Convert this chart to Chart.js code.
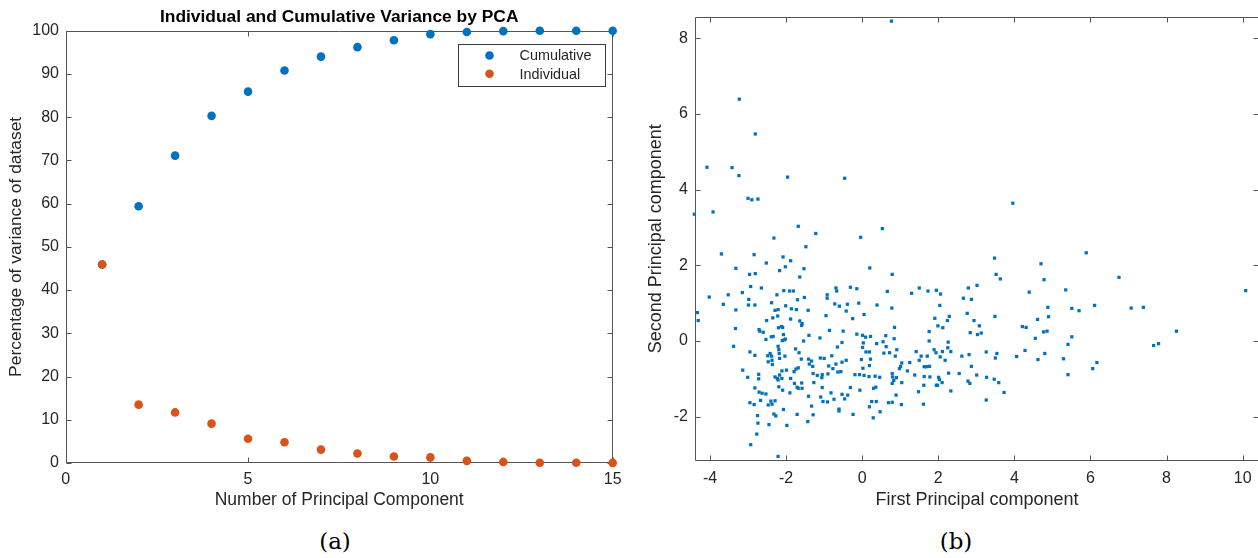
<!DOCTYPE html>
<html>
<head>
<meta charset="utf-8">
<script src="https://cdn.jsdelivr.net/npm/chart.js@4.4.1/dist/chart.umd.min.js"></script>
<style>
  html, body { margin: 0; padding: 0; background: #fff; overflow: hidden; }
  body { width: 1258px; height: 558px; position: relative; }
  canvas { position: absolute; top: 0; }
  #varChart { left: 0; }
  #pcChart { left: 640px; }
  .caption { position: absolute; top: 530px; width: 100px; text-align: center;
             font: 23px 'DejaVu Serif', serif; line-height: 23px; color: #000; }
</style>
</head>
<body>
<canvas id="varChart" width="640" height="520"></canvas>
<canvas id="pcChart" width="625" height="520"></canvas>
<div class="caption" style="left:285px">(a)</div>
<div class="caption" style="left:906px">(b)</div>

<script>
// explained variance per principal component (%)
const components = [1, 2, 3, 4, 5, 6, 7, 8, 9, 10, 11, 12, 13, 14, 15];
const cumulative = [45.9, 59.4, 71.1, 80.3, 85.9, 90.8, 94.0, 96.2, 97.8, 99.2, 99.7, 99.9, 100.0, 100.0, 100.0];
const individual = [45.9, 13.5, 11.7, 9.1, 5.6, 4.8, 3.1, 2.2, 1.5, 1.3, 0.5, 0.25, 0.05, 0.05, 0.03];
const pcaTicksX = [0, 5, 10, 15];
const pcaTicksY = [0, 10, 20, 30, 40, 50, 60, 70, 80, 90, 100];

// scores on the first two principal components (pc1[i], pc2[i] is one sample)
const pc1 = [
  0.77, -3.23, -2.81, -4.08, -3.42, -3.24, -1.96, -0.46, -3.00, -2.90,
  -2.74, -4.41, -3.92, -1.68, 0.53, -1.22, -2.32, -0.04, -1.48, 3.96,
  6.75, 7.07, 7.39, 8.26, 7.66, 7.79, 10.08,
  3.48, 4.70, 5.89, 3.52, 3.63, 4.78, 2.79, 3.02, 4.39, 5.35,
  2.66, 2.87, 4.88, 5.51, 5.70, 6.11, 2.76, 3.49, 4.61, 4.90,
  2.94, 3.08, 2.84, 3.03, 3.13, 4.21, 4.31, 4.77, 4.86, 4.55,
  5.51, 5.41, 4.28, 2.62, 2.81, 3.26, 3.54, 3.50, 4.06, 4.62,
  4.80, 5.29, 6.17, 6.06, 2.87, 2.55, 3.01, 3.27, 2.78, 2.83,
  3.47, 3.59, 5.41, 3.73, 3.26,
  -3.70, -2.84, -2.08, -1.88, -2.52, -3.32, -2.02, -1.53, -2.96, -2.81,
  -2.17, -1.64, -2.65, -2.93, -3.15, -3.52, -4.02, -3.65, -2.98, -2.99,
  -2.82, -3.32, -4.33, -4.31, -2.06, -1.91, -1.81, -2.24, -2.38, -2.01,
  -1.86, -1.73, -1.70, -1.52, -1.42, -2.29, -2.21, -2.51, -2.35, -2.22,
  -1.88, -1.64, -1.58, -1.59, -1.40, -1.54, -3.33, -2.71, -2.69, -2.60,
  -2.34, -2.12, -2.09, -2.20, -2.07, -2.02, -2.05, -2.10, -2.53, -2.39,
  -3.38, -2.95, -2.82, -2.21, -2.19, -2.42, -2.38, -2.48, -2.37, -2.47,
  -2.36, -2.17, -2.18, -2.03, -1.75, -1.66, -1.60, -1.41, -3.14, -3.01,
  -2.72, -2.72, -2.82, -2.71, -2.63, -2.53, -2.95, -2.84, -2.67, -2.75,
  -2.74, -2.77, -2.93, -2.21, -2.45, -2.32, -2.27, -2.47, -2.40, -2.29,
  -2.37, -1.98, -2.07, -2.19, -2.09, -2.29, -2.23, -2.21, -2.11, -2.17,
  -2.11, -1.99, -1.88, -1.78, -1.71, -1.68, -1.58, -1.74, -1.68, -1.79,
  -1.90, -1.71, -1.43, -1.41, -1.33, -1.29, -1.59, -1.39, -1.33, -1.30, -1.27, -1.29,
  0.20, 0.79, -0.69, -0.67, -0.92, -0.92, -0.31, -0.14, 0.66, -0.72,
  -0.60, -0.39, -0.42, -0.09, 0.39, 0.78, 0.05, -0.95, -0.25, 0.85,
  -0.86, -0.50, -1.11, -0.14, 0.01, 0.09, 0.22, 0.62, 0.84, -0.53,
  0.03, 0.01, 0.38, 0.55, 0.63, -0.65, 0.10, 0.19, 0.22, -0.02,
  0.91, 0.57, 0.72, 0.87, -0.80, -1.10, -1.00, -0.42, -0.53, -0.69,
  -0.88, -0.77, -0.64, -0.56, -1.18, -1.05, -1.06, -0.90, -1.05, -0.82,
  -1.09, -1.03, -0.91, -0.74, -0.53, -0.46, -0.38, -0.61, -0.61, -0.31,
  -0.19, -0.07, -0.06, -0.24, 0.02, 0.05, 0.19, 0.18, 0.34, 0.46,
  0.30, 0.36, 0.25, 0.37, 0.19, 0.29, 0.47, 0.79, 0.80, 0.83,
  0.79, 0.90, 0.98, 1.01, 1.04, 1.04, 0.89, 0.69, 0.79, 1.03,
  1.25, 1.19, 1.38, 1.42, 1.50, 1.55, 1.63, 1.69, 1.77, 1.71,
  1.63, 1.62, 1.48, 1.61, 1.78, 1.89, 1.94, 2.01, 2.03, 1.95,
  1.98, 2.10, 2.27, 2.33, 2.05, 2.18, 2.25, 2.26, 2.33, 2.11,
  1.76, 1.76, 1.99, 2.12, 2.24, 2.29, 1.91, 2.04, 1.30, 1.50,
  1.73, 1.95, 2.06
];
const pc2 = [
  8.45, 6.39, 5.47, 4.59, 4.58, 4.37, 4.33, 4.30, 3.77, 3.73,
  3.75, 3.35, 3.41, 3.03, 2.97, 2.84, 2.72, 2.74, 2.49, 3.64,
  1.68, 0.87, 0.89, 0.26, -0.12, -0.07, 1.33,
  2.19, 2.04, 2.33, 1.76, 1.64, 1.62, 1.40, 1.47, 1.29, 1.35,
  1.13, 1.10, 0.89, 0.86, 0.80, 0.94, 0.73, 0.65, 0.57, 0.64,
  0.54, 0.40, 0.22, 0.17, 0.21, 0.38, 0.36, 0.24, 0.26, 0.07,
  0.11, -0.09, -0.25, -0.40, -0.36, -0.29, -0.33, -0.45, -0.41, -0.49,
  -0.33, -0.47, -0.57, -0.73, -0.67, -0.86, -0.90, -0.96, -1.06, -1.12,
  -1.01, -1.10, -0.89, -1.36, -1.56,
  2.30, 2.28, 2.22, 2.12, 2.06, 1.92, 1.96, 1.91, 1.76, 1.78,
  1.86, 1.69, 1.40, 1.44, 1.28, 1.22, 1.16, 0.97, 1.10, 0.95,
  0.95, 0.82, 0.75, 0.54, 1.33, 1.32, 1.32, 1.22, 1.01, 0.93,
  0.85, 0.83, 1.09, 1.15, 0.81, 0.81, 0.83, 0.54, 0.61, 0.66,
  0.58, 0.53, 0.46, 0.41, 0.15, 0.00, 0.33, 0.30, 0.26, 0.23,
  0.12, 0.38, 0.36, 0.35, 0.17, 0.05, 0.03, 0.01, 0.04, 0.11,
  -0.14, -0.29, -0.38, -0.14, -0.23, -0.33, -0.40, -0.39, -0.51, -0.55,
  -0.62, -0.46, -0.33, -0.40, -0.21, -0.31, -0.48, -0.48, -0.77, -0.96,
  -0.88, -1.00, -1.24, -1.35, -1.38, -1.40, -1.63, -1.68, -1.57, -1.97,
  -2.17, -2.46, -2.74, -3.05, -2.21, -1.93, -1.98, -1.69, -1.59, -1.58,
  -1.67, -2.23, -1.81, -1.21, -1.30, -0.95, -0.99, -1.03, -0.99, -0.90,
  -0.79, -0.77, -0.99, -1.12, -1.22, -1.25, -1.25, -0.74, -0.71, -0.81,
  -1.37, -1.94, -2.13, -1.46, -1.72, -1.95, -1.11, -0.61, -0.53, -0.67, -1.10, -0.86,
  1.93, 1.76, 1.40, 1.32, 1.22, 1.13, 1.42, 1.38, 1.31, 0.98,
  0.92, 0.97, 0.79, 1.00, 0.95, 0.87, 0.70, 0.67, 0.59, 0.36,
  0.28, 0.26, 0.08, 0.18, 0.15, 0.10, 0.12, 0.14, 0.06, -0.04,
  -0.05, -0.17, -0.07, -0.02, -0.15, -0.16, -0.29, -0.29, -0.48, -0.49,
  -0.23, -0.32, -0.31, -0.40, -0.39, -0.45, -0.46, -0.51, -0.56, -0.61,
  -0.66, -0.73, -0.82, -0.81, -0.91, -0.89, -0.97, -0.87, -1.23, -1.37,
  -1.48, -1.60, -1.61, -1.54, -1.41, -1.53, -1.43, -1.80, -1.85, -1.23,
  -0.89, -0.89, -1.30, -1.94, -0.72, -0.91, -0.65, -0.94, -0.93, -0.96,
  -1.25, -1.22, -1.60, -1.60, -1.74, -2.03, -1.87, -0.86, -0.95, -1.04,
  -1.12, -0.97, -0.73, -0.67, -0.58, -1.10, -1.43, -1.63, -1.62, -1.68,
  -0.57, -0.79, -0.90, -0.28, -0.51, -0.40, -0.68, -0.68, -0.67, -0.40,
  -0.94, -1.17, -1.34, -1.67, -0.95, -0.23, -0.31, -0.96, -1.02, -1.17,
  -1.17, -1.10, -0.85, -1.32, -0.42, -0.51, -0.18, -0.03, -0.28, -0.28,
  0.25, 0.00, 0.40, 0.35, 0.54, 0.65, 0.60, 0.94, 1.26, 1.40,
  1.32, 1.34, 1.24
];
const pcTicksX = [-4, -2, 0, 2, 4, 6, 8, 10];
const pcTicksY = [-2, 0, 2, 4, 6, 8];

const BLUE = '#0072BD';
const ORANGE = '#D95319';
const TEXT = '#262626';
const FRAME = '#555555';

Chart.defaults.font.family = "'Liberation Sans', Arial, sans-serif";
Chart.defaults.color = TEXT;

// closed axes box with short ticks pointing inwards on all four sides
const boxAxes = {
  id: 'boxAxes',
  beforeDatasetsDraw(chart) {
    const { ctx, chartArea: a, scales } = chart;
    const len = 5;
    const l = Math.round(a.left) + 0.5, r = Math.round(a.right) - 0.5;
    const t = Math.round(a.top) + 0.5, b = Math.round(a.bottom) - 0.5;
    ctx.save();
    ctx.strokeStyle = FRAME;
    ctx.lineWidth = 1;
    ctx.beginPath();
    ctx.rect(l, t, r - l, b - t);
    scales.x.ticks.forEach(tk => {
      const px = Math.round(scales.x.getPixelForValue(tk.value)) + 0.5;
      ctx.moveTo(px, b); ctx.lineTo(px, b - len);
      ctx.moveTo(px, t); ctx.lineTo(px, t + len);
    });
    scales.y.ticks.forEach(tk => {
      const py = Math.round(scales.y.getPixelForValue(tk.value)) + 0.5;
      ctx.moveTo(l, py); ctx.lineTo(l + len, py);
      ctx.moveTo(r, py); ctx.lineTo(r - len, py);
    });
    ctx.stroke();
    ctx.restore();
  }
};

// boxed legend in the upper right corner of the axes
const boxLegend = {
  id: 'boxLegend',
  afterDatasetsDraw(chart, args, opts) {
    if (!opts.show) return;
    const { ctx } = chart;
    const x = opts.x, y = opts.y, w = opts.w, h = opts.h;
    ctx.save();
    ctx.fillStyle = '#fff';
    ctx.fillRect(x, y, w, h);
    ctx.strokeStyle = '#3a3a3a';
    ctx.lineWidth = 1;
    ctx.strokeRect(x + 0.5, y + 0.5, w, h);
    ctx.font = "14.4px 'Liberation Sans', Arial, sans-serif";
    ctx.textBaseline = 'middle';
    // legend order follows the dataset order in the data
    chart.data.datasets.forEach((ds, i) => {
      const cy = y + 11.5 + i * 18.3;
      ctx.fillStyle = ds.backgroundColor;
      ctx.beginPath();
      ctx.arc(x + 31.5, cy, 4.3, 0, Math.PI * 2);
      ctx.fill();
      ctx.fillStyle = TEXT;
      ctx.fillText(ds.label, x + 61.5, cy + 0.8);
    });
    ctx.restore();
  }
};

function tickScale(min, max, step, pad, size) {
  return {
    type: 'linear', min: min, max: max,
    grid: { display: false, drawTicks: false, tickLength: 0 }, border: { display: false },
    ticks: { stepSize: step, includeBounds: false, padding: pad, maxRotation: 0,
             color: TEXT, font: { size: size } }
  };
}

// (a) individual and cumulative explained variance
const varX = tickScale(pcaTicksX[0], pcaTicksX[pcaTicksX.length - 1], 5, 7.4, 16);
varX.title = { display: true, text: 'Number of Principal Component', color: TEXT,
               font: { size: 17.5 }, padding: { top: 0, bottom: 9 } };
varX.afterFit = s => { s.height = 57; };
const varY = tickScale(pcaTicksY[0], pcaTicksY[pcaTicksY.length - 1], 10, 6.7, 16);
varY.title = { display: true, text: 'Percentage of variance of dataset', color: TEXT,
               font: { size: 17.4 }, padding: { top: 5.9, bottom: 0 } };
varY.afterFit = s => { s.width = 65.7; };

new Chart(document.getElementById('varChart'), {
  type: 'scatter',
  data: {
    datasets: [
      { label: 'Cumulative', data: components.map((c, i) => ({ x: c, y: cumulative[i] })),
        backgroundColor: BLUE, pointRadius: 4.3, borderWidth: 0, order: 1, clip: false },
      { label: 'Individual', data: components.map((c, i) => ({ x: c, y: individual[i] })),
        backgroundColor: ORANGE, pointRadius: 4.3, borderWidth: 0, order: 0, clip: false }
    ]
  },
  options: {
    responsive: false, animation: false, events: [],
    layout: { padding: { left: 0, right: 27.3, top: 0, bottom: 0 } },
    plugins: {
      legend: { display: false },
      tooltip: { enabled: false },
      title: { display: true, text: 'Individual and Cumulative Variance by PCA', color: '#000',
               fullSize: false, font: { size: 17.4, weight: 'bold' }, padding: { top: 6.56, bottom: 3.26 } },
      boxLegend: { show: true, x: 458, y: 44, w: 147, h: 42 }
    },
    scales: { x: varX, y: varY }
  },
  plugins: [boxAxes, boxLegend]
});

// (b) samples projected on the first two components
const pcX = tickScale(-4.394, 10.43, 2, 8.4, 16);
pcX.title = { display: true, text: 'First Principal component', color: TEXT,
              font: { size: 18 }, padding: { top: 0, bottom: 8.7 } };
pcX.afterFit = s => { s.height = 59; };
const pcY = tickScale(-3.171, 8.571, 2, 7, 16);
pcY.title = { display: true, text: 'Second Principal component', color: TEXT,
              font: { size: 18 }, padding: { top: 5.7, bottom: 0 } };
pcY.afterFit = s => { s.width = 55; };

new Chart(document.getElementById('pcChart'), {
  type: 'scatter',
  data: {
    datasets: [{
      label: 'Scores', data: pc1.map((v, i) => ({ x: v, y: pc2[i] })),
      backgroundColor: BLUE, pointStyle: 'rect', pointRadius: 2.3, borderWidth: 0, clip: false
    }]
  },
  options: {
    responsive: false, animation: false, events: [],
    layout: { padding: { left: 0, right: 6, top: 15, bottom: 0 } },
    plugins: { legend: { display: false }, tooltip: { enabled: false } },
    scales: { x: pcX, y: pcY }
  },
  plugins: [boxAxes]
});
</script>
</body>
</html>
